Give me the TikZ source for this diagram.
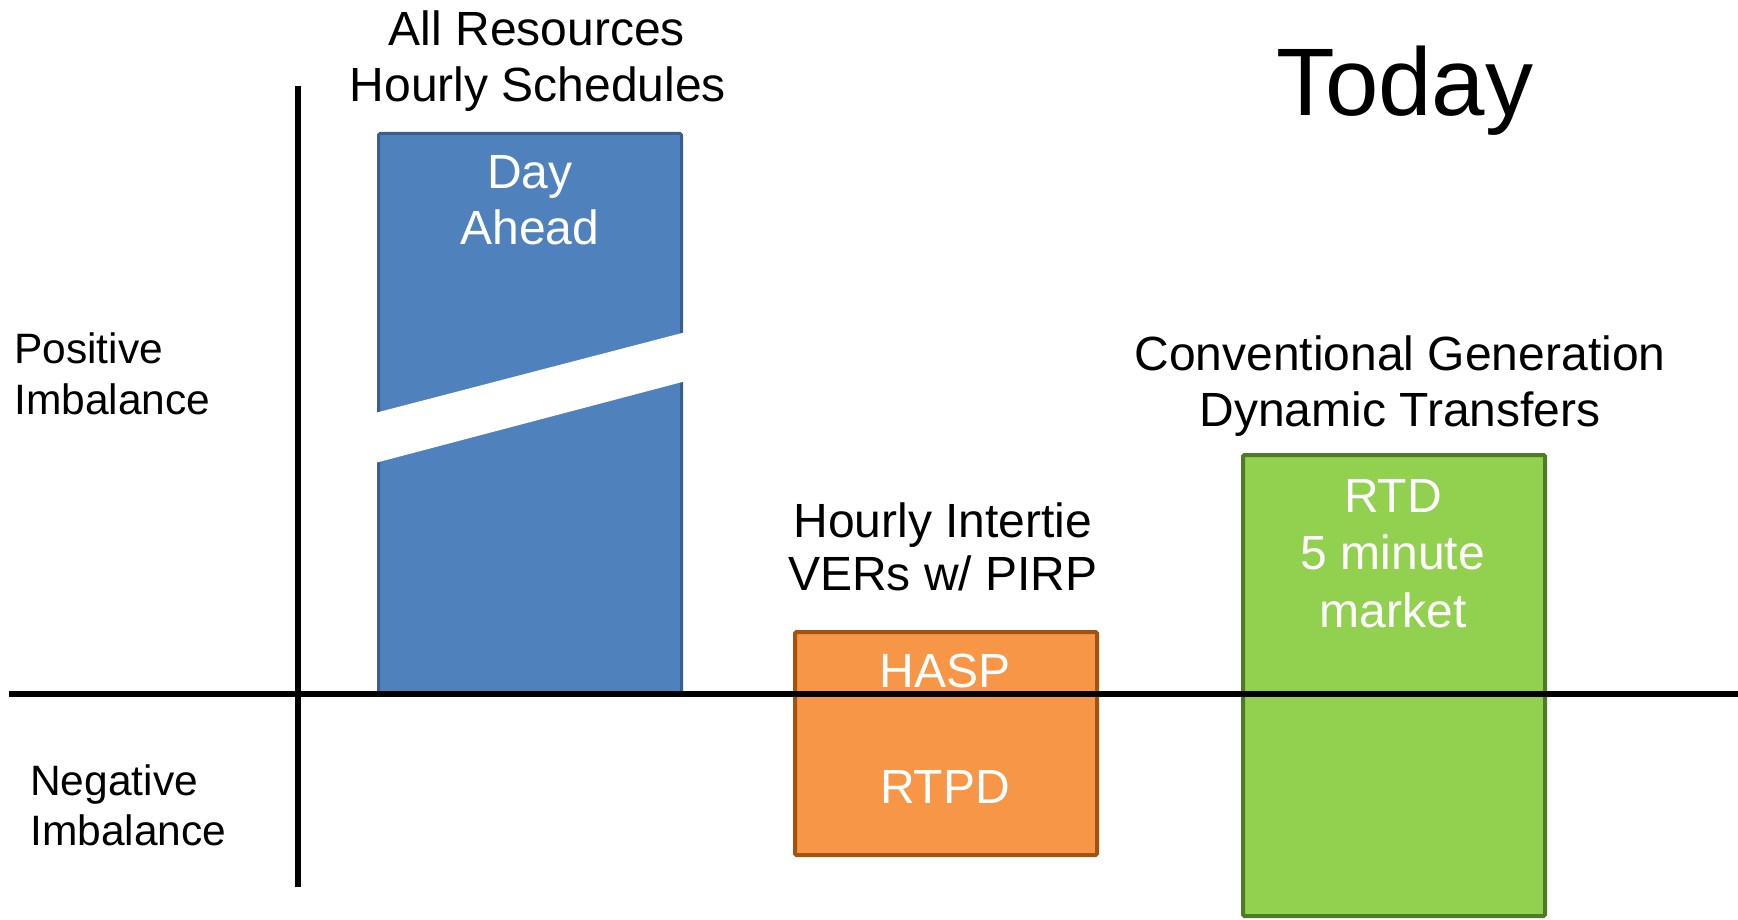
\documentclass[tikz,border=0pt]{standalone}
\usepackage{fontspec}
\setmainfont{Liberation Sans}

\definecolor{daFill}{HTML}{4F81BD}
\definecolor{daLine}{HTML}{3A5F8C}
\definecolor{rtFill}{HTML}{F79646}
\definecolor{rtLine}{HTML}{A4520F}
\definecolor{gnFill}{HTML}{92D050}
\definecolor{gnLine}{HTML}{4F7A28}

\begin{document}
\begin{tikzpicture}[x=1pt,y=-1pt,
  lbl/.style={anchor=base, inner sep=0pt, font=\fontsize{48}{56}\selectfont},
  wlbl/.style={lbl, text=white},
  side/.style={anchor=base west, inner sep=0pt, font=\fontsize{42.5}{50}\selectfont},
  mkt/.style={draw, rounded corners=1.5pt, inner sep=0pt, anchor=north west},
  axisline/.style={line width=5.5pt, black}]
\useasboundingbox (0,0) rectangle (1738,920);

% market boxes
\node[mkt, fill=daFill, draw=daLine, line width=3pt,
      minimum width=303pt, minimum height=561pt] (dabox) at (377,132) {};
\node[mkt, fill=rtFill, draw=rtLine, line width=4pt,
      minimum width=302pt, minimum height=223pt] (rtbox) at (793,630) {};
\node[mkt, fill=gnFill, draw=gnLine, line width=4pt,
      minimum width=302pt, minimum height=461pt] (gnbox) at (1241,453) {};

% break band across the day-ahead bar
\fill[white] (375,413) -- (686,332) -- (686,381) -- (375,463) -- cycle;

% axes
\coordinate (hx0) at (9,694);
\coordinate (hx1) at (1738,694);
\coordinate (vy0) at (298,86);
\coordinate (vy1) at (298,887);
\draw[axisline] (hx0) -- (hx1);
\draw[axisline] (vy0) -- (vy1);

% headings
\node[lbl] (ar1) at (537,46) {All Resources};
\node[lbl] (ar2) at (538,102) {Hourly Schedules};
\node[lbl, font=\fontsize{96}{112}\selectfont] (today) at (1405,116) {Today};
\node[lbl] (hi1) at (943,537) {Hourly Intertie};
\node[lbl] (hi2) at (943,590) {VERs w/ PIRP};
\node[lbl] (cg1) at (1400,370) {Conventional Generation};
\node[lbl] (cg2) at (1400,426) {Dynamic Transfers};

% side labels
\node[side] (pos1) at (14,363) {Positive};
\node[side] (pos2) at (14,414) {Imbalance};
\node[side] (neg1) at (30,795) {Negative};
\node[side] (neg2) at (30,845) {Imbalance};

% box texts
\node[wlbl] (da1) at (530,189) {Day};
\node[wlbl] (da2) at (530,245) {Ahead};
\node[wlbl] (hasp) at (945,687) {HASP};
\node[wlbl] (rtpd) at (945,803) {RTPD};
\node[wlbl] (rtd1) at (1393,512) {RTD};
\node[wlbl] (rtd2) at (1393,569) {5 minute};
\node[wlbl] (rtd3) at (1393,627) {market};
\end{tikzpicture}
\end{document}
